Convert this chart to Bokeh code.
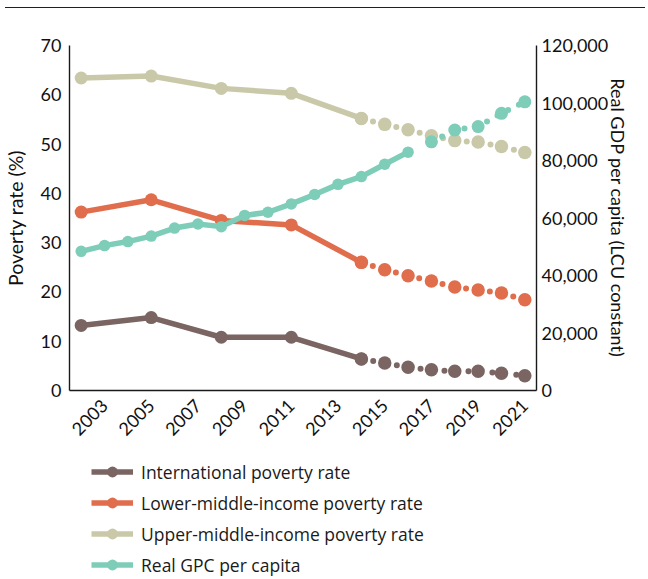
import math
from bokeh.plotting import figure
from bokeh.models import (Range1d, LinearAxis, FixedTicker, NumeralTickFormatter,
                          Legend, LegendItem, Div)
from bokeh.layouts import column
from bokeh.embed import file_html
from bokeh.resources import INLINE

# ---------------- data ----------------
pov_years_obs = [2002, 2005, 2008, 2011, 2014]
pov_years_proj = [2014, 2015, 2016, 2017, 2018, 2019, 2020, 2021]

intl_obs = [13.2, 14.8, 10.8, 10.8, 6.4]
intl_proj = [6.4, 5.6, 4.7, 4.2, 3.9, 3.9, 3.5, 3.0]

lmic_obs = [36.2, 38.7, 34.5, 33.6, 26.0]
lmic_proj = [26.0, 24.5, 23.3, 22.2, 21.0, 20.4, 19.8, 18.4]

umic_obs = [63.4, 63.8, 61.3, 60.3, 55.2]
umic_proj = [55.2, 54.0, 52.9, 51.7, 50.7, 50.4, 49.5, 48.3]

gdp_years_obs = [2002, 2003, 2004, 2005, 2006, 2007, 2008, 2009, 2010, 2011,
                 2012, 2013, 2014, 2015, 2016]
gdp_obs = [48400, 50400, 51800, 53700, 56500, 57900, 57000, 60900, 62000, 64900,
           68200, 71700, 74400, 78700, 82900]
gdp_years_proj = [2017, 2018, 2019, 2020, 2021]
gdp_proj = [86500, 90600, 91800, 96400, 100400]

x_ticks = [2003, 2005, 2007, 2009, 2011, 2013, 2015, 2017, 2019, 2021]
left_ticks = [0, 10, 20, 30, 40, 50, 60, 70]
right_ticks = [0, 20000, 40000, 60000, 80000, 100000, 120000]

labels = ["International poverty rate", "Lower-middle-income poverty rate",
          "Upper-middle-income poverty rate", "Real GPC per capita"]
colors = ["#7a6562", "#e06d4b", "#c9c9a9", "#7ecdb8"]

TICK_FONT = "Lato"

# ---------------- top rule ----------------
rule = Div(text="", width=640, height=3,
           styles={"border-bottom": "1.6px solid #231f20"})

# ---------------- main figure ----------------
p = figure(width=640, height=437, x_range=Range1d(2001.5, 2021.5),
           y_range=Range1d(0, 70), output_backend="svg", toolbar_location=None,
           min_border_left=60, min_border_right=104, min_border_top=32,
           min_border_bottom=60)
p.extra_y_ranges = {"gdp": Range1d(0, 120000)}
p.outline_line_color = None
p.xgrid.visible = False
p.ygrid.visible = False

right = LinearAxis(y_range_name="gdp", ticker=FixedTicker(ticks=right_ticks),
                   formatter=NumeralTickFormatter(format="0,0"),
                   axis_label="Real GDP per capita (LCU constant)")
p.add_layout(right, "right")

p.yaxis[0].ticker = FixedTicker(ticks=left_ticks)
p.yaxis[0].axis_label = "Poverty rate (%)"
p.xaxis[0].ticker = FixedTicker(ticks=x_ticks)
p.xaxis[0].major_label_orientation = math.pi / 4

for ax in [p.xaxis[0], p.yaxis[0], right]:
    ax.axis_line_color = "#1a1a1a"
    ax.axis_line_width = 1.4
    ax.major_tick_line_color = None
    ax.minor_tick_line_color = None
    ax.major_tick_out = 0
    ax.major_tick_in = 0
    ax.minor_tick_out = 0
    ax.minor_tick_in = 0
    ax.major_label_text_font = TICK_FONT
    ax.major_label_text_font_size = "18px"
    ax.major_label_text_color = "#111111"
    ax.major_label_standoff = 8
    ax.axis_label_text_font = TICK_FONT
    ax.axis_label_text_font_size = "19.5px"
    ax.axis_label_text_font_style = "normal"
    ax.axis_label_text_color = "#111111"
    ax.axis_label_standoff = 5
p.yaxis[0].axis_label_standoff = 11
p.xaxis[0].major_label_standoff = 12
right.major_label_standoff = 5
right.axis_label_standoff = -4
right.axis_label_text_font_size = "18px"

# ---------------- series ----------------
pov_series = [(intl_obs, intl_proj), (lmic_obs, lmic_proj), (umic_obs, umic_proj)]
for (obs, proj), col in zip(pov_series, colors[:3]):
    p.line(pov_years_obs, obs, line_color=col, line_width=5.5, line_join="round")
    p.scatter(pov_years_obs, obs, size=13, fill_color=col, line_color=None)
    p.line(pov_years_proj, proj, line_color=col, line_width=6, line_dash="0 12",
           line_cap="round")
    p.scatter(pov_years_proj, proj, size=13.5, fill_color=col, line_color=None)

col = colors[3]
p.line(gdp_years_obs, gdp_obs, y_range_name="gdp", line_color=col,
       line_width=5.5, line_join="round")
p.scatter(gdp_years_obs, gdp_obs, y_range_name="gdp", size=11.5,
          fill_color=col, line_color=None)
p.line(gdp_years_proj, gdp_proj, y_range_name="gdp", line_color=col, line_width=6,
       line_dash="0 12", line_cap="round")
p.scatter(gdp_years_proj, gdp_proj, y_range_name="gdp", size=13,
          fill_color=col, line_color=None)

# ---------------- legend panel below the chart ----------------
lg = figure(width=640, height=128, x_range=Range1d(0, 1), y_range=Range1d(0, 1),
            x_axis_type=None, y_axis_type=None, output_backend="svg",
            toolbar_location=None, min_border_left=60, min_border_right=104,
            min_border_top=0, min_border_bottom=0)
lg.outline_line_color = None
lg.xgrid.visible = False
lg.ygrid.visible = False
series_x = [pov_years_obs, pov_years_obs, pov_years_obs, gdp_years_obs]
series_y = [intl_obs, lmic_obs, umic_obs, gdp_obs]
items = []
for lab, col, xs, ys in zip(labels, colors, series_x, series_y):
    # same series, drawn outside this panel's ranges: only the legend glyph shows
    lr = lg.line(xs, ys, line_color=col, line_width=5.5)
    sr = lg.scatter(xs, ys, size=12, fill_color=col, line_color=None)
    items.append(LegendItem(label=lab, renderers=[lr, sr]))
legend = Legend(items=items, location=(22, 0), orientation="vertical",
                glyph_width=42, glyph_height=27, label_height=27, spacing=4,
                label_standoff=8, padding=0, margin=0,
                border_line_color=None, background_fill_alpha=0,
                label_text_font="Open Sans", label_text_font_size="17.5px",
                label_text_color="#1a1a1a")
lg.add_layout(legend, "center")

layout = column(rule, p, lg, spacing=0)

open("out.html", "w").write(file_html(layout, INLINE))
